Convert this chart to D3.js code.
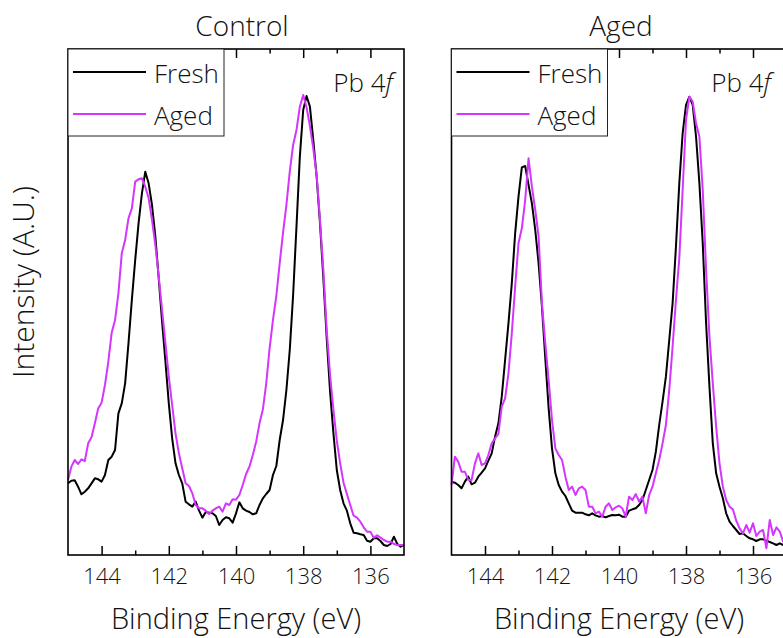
<!DOCTYPE html>
<html><head><meta charset="utf-8">
<script src="https://cdn.jsdelivr.net/npm/d3@7"></script>
<style>
body{margin:0;background:#fff}
svg{display:block}
text{font-family:"Open Sans",sans-serif;fill:#111;font-weight:350}
</style>
</head><body><svg id="chart" width="783" height="638"></svg>
<script>
// Binding energy grid (eV)
const energies = [145.0,144.9,144.8,144.7,144.6,144.5,144.4,144.3,144.2,144.1,
144.0,143.9,143.8,143.7,143.6,143.5,143.4,143.3,143.2,143.1,
143.0,142.9,142.8,142.7,142.6,142.5,142.4,142.3,142.2,142.1,
142.0,141.9,141.8,141.7,141.6,141.5,141.4,141.3,141.2,141.1,
141.0,140.9,140.8,140.7,140.6,140.5,140.4,140.3,140.2,140.1,
140.0,139.9,139.8,139.7,139.6,139.5,139.4,139.3,139.2,139.1,
139.0,138.9,138.8,138.7,138.6,138.5,138.4,138.3,138.2,138.1,
138.0,137.9,137.8,137.7,137.6,137.5,137.4,137.3,137.2,137.1,
137.0,136.9,136.8,136.7,136.6,136.5,136.4,136.3,136.2,136.1,
136.0,135.9,135.8,135.7,135.6,135.5,135.4,135.3,135.2,135.1,135.0];

// Control sample: fresh / aged (intensity, A.U.)
const controlFresh = [215,223,224,205,182,190,200,215,230,227,220,240,285,295,315,425,455,515,635,765,885,995,1085,1150,1115,1050,955,830,700,580,455,350,275,240,215,160,152,145,160,133,112,129,127,125,117,90,105,113,110,97,125,
158,140,133,129,122,125,150,170,183,195,240,267,345,405,495,615,780,985,1195,1335,1377,1345,1245,1135,995,830,650,490,365,255,195,155,133,95,67,65,62,60,43,40,50,50,42,30,27,33,55,33,25,30];
const controlAged = [225,265,285,273,287,282,335,353,395,440,457,510,580,667,705,785,905,945,1010,1040,1120,1127,1130,1105,1070,1005,930,835,735,635,535,450,365,305,260,215,207,185,150,140,140,133,123,133,140,145,130,155,150,167,166,
180,210,243,265,300,340,395,437,515,620,705,777,875,967,1050,1150,1230,1275,1345,1380,1343,1287,1219,1140,1005,855,675,540,435,343,275,217,183,150,118,112,100,83,70,70,52,59,52,45,40,40,33,30,30,29];

// Aged sample: fresh / aged (intensity, A.U.)
const agedFresh = [220,217,210,200,220,235,212,217,235,247,260,283,305,355,395,475,585,695,815,965,1075,1163,1167,1110,1055,975,875,745,590,440,320,245,210,190,177,155,133,127,127,127,122,119,125,119,115,117,113,117,120,119,121,
115,115,133,137,140,150,165,195,225,255,310,390,460,535,645,755,925,1115,1265,1350,1375,1350,1255,1115,935,695,505,335,245,205,170,125,100,87,75,63,65,57,50,47,42,47,47,43,39,35,30,35,30,33];
const agedAged = [210,295,280,250,250,225,225,275,305,270,275,300,335,350,363,445,470,545,665,805,935,980,1065,1190,1105,1035,955,755,635,525,405,320,300,285,235,195,205,180,200,205,195,145,145,125,130,115,145,155,135,143,148,
140,115,175,165,183,160,175,125,180,205,245,285,335,390,495,625,765,890,1095,1305,1375,1360,1295,1255,1095,855,655,515,385,275,205,165,145,137,103,80,65,90,67,95,57,70,75,20,105,60,83,70,40,55];

const panelTitles = ["Control", "Aged"];
const seriesNames = ["Fresh", "Aged"];
const majorTicks = [144, 142, 140, 138, 136];
const minorTicks = [143, 141, 139, 137];
const xDomain = [145, 135];
const yDomain = [0, 1518];
const xLabel = "Binding Energy (eV)";
const yLabel = "Intensity (A.U.)";
const colors = ["#000000", "#d535ff"];

const svg = d3.select("#chart");
const plotTop = 49, plotBottom = 555;
const y = d3.scaleLinear().domain(yDomain).range([plotBottom, plotTop]);

const panels = [
  {title: panelTitles[0], series: [controlFresh, controlAged], x0: 68, x1: 404, tagRight: 393, titleDx: 6},
  {title: panelTitles[1], series: [agedFresh, agedAged], x0: 451.5, x1: 786.5, tagRight: 771, titleDx: 2}
];

panels.forEach((p, pi) => {
  const x = d3.scaleLinear().domain(xDomain).range([p.x0, p.x1]);
  const g = svg.append("g");
  const cx = (p.x0 + p.x1) / 2;

  const line = d3.line().x((d, i) => x(energies[i])).y(d => y(d));
  p.series.forEach((s, si) => {
    g.append("path").datum(s).attr("d", line)
      .attr("fill", "none").attr("stroke", colors[si])
      .attr("stroke-width", 2).attr("stroke-linejoin", "round");
  });

  const bMaj = g.append("g").attr("transform", `translate(0,${plotBottom})`)
    .call(d3.axisBottom(x).tickValues(majorTicks).tickSize(-9).tickPadding(13.5).tickFormat(d3.format("d")));
  bMaj.select(".domain").remove();
  bMaj.selectAll("line").attr("stroke", "#000").attr("stroke-width", 1.5);
  bMaj.selectAll("text").attr("font-size", 22).attr("font-family", "Open Sans").attr("fill", "#111").attr("font-weight", 350);
  const bMin = g.append("g").attr("transform", `translate(0,${plotBottom})`)
    .call(d3.axisBottom(x).tickValues(minorTicks).tickSize(-4.5).tickFormat(""));
  bMin.select(".domain").remove();
  bMin.selectAll("line").attr("stroke", "#000").attr("stroke-width", 1.5);

  const tMaj = g.append("g").attr("transform", `translate(0,${plotTop})`)
    .call(d3.axisTop(x).tickValues(majorTicks).tickSize(-9).tickFormat(""));
  tMaj.select(".domain").remove();
  tMaj.selectAll("line").attr("stroke", "#000").attr("stroke-width", 1.5);
  const tMin = g.append("g").attr("transform", `translate(0,${plotTop})`)
    .call(d3.axisTop(x).tickValues(minorTicks).tickSize(-4.5).tickFormat(""));
  tMin.select(".domain").remove();
  tMin.selectAll("line").attr("stroke", "#000").attr("stroke-width", 1.5);

  g.append("rect").attr("x", p.x0).attr("y", plotTop)
    .attr("width", p.x1 - p.x0).attr("height", plotBottom - plotTop)
    .attr("fill", "none").attr("stroke", "#000").attr("stroke-width", 1.6);

  const lg = g.append("g");
  lg.append("rect").attr("x", p.x0).attr("y", plotTop).attr("width", 156).attr("height", 87)
    .attr("fill", "#fff").attr("stroke", "#222").attr("stroke-width", 1);
  seriesNames.forEach((n, si) => {
    const ly = plotTop + 23 + si * 42;
    lg.append("line").attr("x1", p.x0 + 5).attr("x2", p.x0 + 78)
      .attr("y1", ly).attr("y2", ly).attr("stroke", colors[si]).attr("stroke-width", 2);
    lg.append("text").attr("x", p.x0 + 86).attr("y", ly + 11)
      .attr("font-size", 26).text(n);
  });

  const tag = g.append("text").attr("x", p.tagRight).attr("y", 92)
    .attr("text-anchor", "end").attr("font-size", 26);
  tag.append("tspan").text("Pb 4");
  tag.append("tspan").attr("font-style", "italic").text("f");

  g.append("text").attr("x", cx + p.titleDx).attr("y", 36).attr("text-anchor", "middle")
    .attr("font-size", 28).text(p.title);

  g.append("text").attr("x", cx).attr("y", 629).attr("text-anchor", "middle")
    .attr("font-size", 29).text(xLabel);
});

svg.append("text").attr("transform", "translate(34,282) rotate(-90)")
  .attr("text-anchor", "middle").attr("font-size", 30).text(yLabel);
</script>
</body></html>
